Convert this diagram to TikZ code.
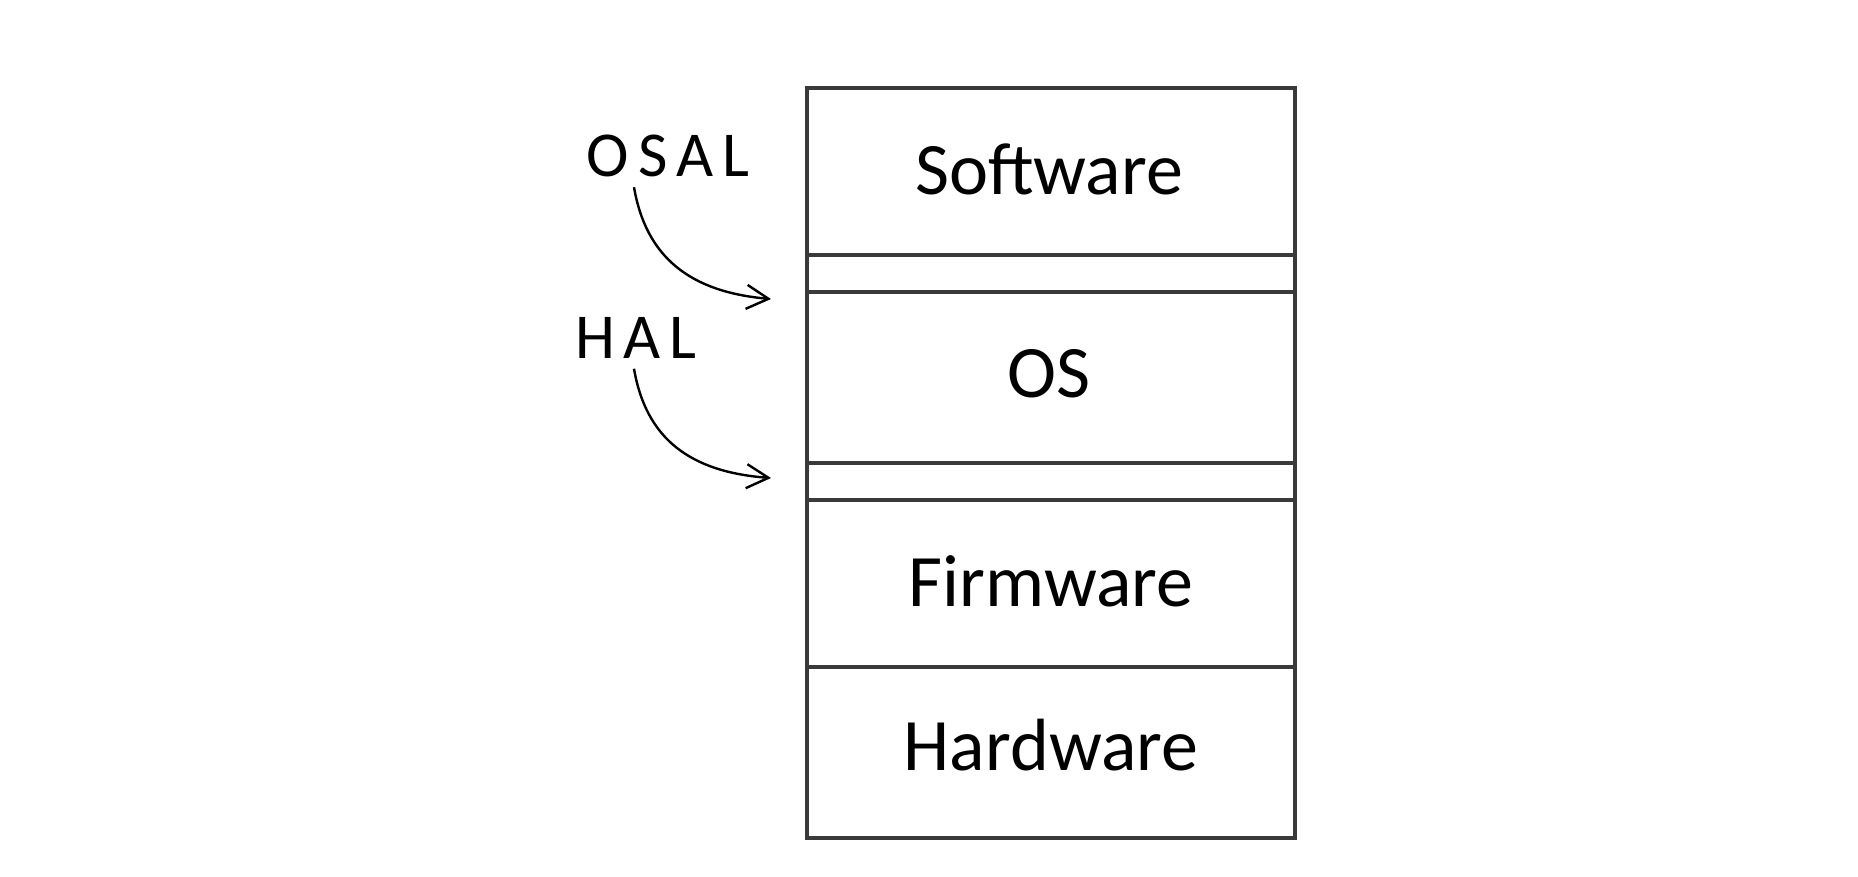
\documentclass[tikz,border=0pt]{standalone}
\usepackage{fontspec}
\setmainfont{Carlito}
\usetikzlibrary{arrows.meta}
\definecolor{edge}{HTML}{3A3A3A}
\begin{document}
\begin{tikzpicture}[x=1pt,y=-1pt,
  layer/.style={draw=edge,line width=3.5pt,minimum width=488pt,inner sep=0pt,anchor=center},
  big/.style={font=\fontsize{74}{80}\selectfont},
  lbl/.style={font=\fontsize{64}{70}\selectfont\addfontfeature{LetterSpace=14},inner sep=0pt},
  curvy/.style={draw=black,line width=2.4pt,-{Straight Barb[length=22pt,width=24pt,line width=2.4pt]}}]
\useasboundingbox (0,0) rectangle (1858,876);
\fill[white] (0,0) rectangle (1858,876);
\node[layer,minimum height=167pt] (sw) at (1051,171.5) {};
\node[layer,minimum height=37pt] (osalgap) at (1051,273.5) {};
\node[layer,minimum height=171pt] (os) at (1051,377.5) {};
\node[layer,minimum height=37pt] (halgap) at (1051,481.5) {};
\node[layer,minimum height=167pt] (fw) at (1051,583.5) {};
\node[layer,minimum height=171pt] (hw) at (1051,752.5) {};
\node[big] (swt) at (1049,169) {Software};
\node[big] (ost) at (1049,374) {OS};
\node[big] (fwt) at (1051,581) {Firmware};
\node[big] (hwt) at (1051,745) {Hardware};
\node[lbl] (osal) at (668,156) {OSAL};
\node[lbl] (hal) at (636,338) {HAL};
\coordinate (t1) at (771,299);
\coordinate (t2) at (771,478);
\draw[curvy] (osal.south) ++(-34,10) .. controls +(12,70) and (690,292) .. (t1);
\draw[curvy] (hal.south) ++(-2,10) .. controls +(12,70) and (690,472) .. (t2);
\end{tikzpicture}
\end{document}
